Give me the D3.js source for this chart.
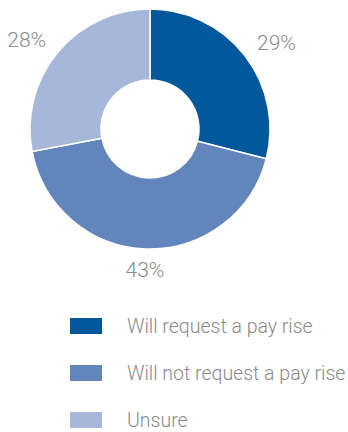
<!DOCTYPE html>
<html>
<head>
<meta charset="utf-8">
<script src="https://cdn.jsdelivr.net/npm/d3@7"></script>
<style>
  body { margin: 0; background: #fff; }
  text { font-family: Roboto, "Liberation Sans", sans-serif; font-weight: 300; fill: #8a8a8a; }
</style>
</head>
<body>
<div id="vis"></div>
<script>
// chart data
var categories = ['Will request a pay rise', 'Will not request a pay rise', 'Unsure'];
var values = [29, 43, 28];
var colors = ['#03579b', '#6286bb', '#a7b7d9'];

var width = 348, height = 432;
var cx = 150, cy = 129,
    outerR = 120, innerR = 49,
    labelRx = 160, labelRy = 141; // labels sit on a slightly flattened ring

var svg = d3.select('#vis').append('svg')
    .attr('width', width)
    .attr('height', height);

var data = categories.map(function(c, i){ return {key: c, n: values[i], color: colors[i]}; });

var pie = d3.pie().sort(null).value(function(d){ return d.n; });
var arc = d3.arc().innerRadius(innerR).outerRadius(outerR);

var g = svg.append('g').attr('transform', 'translate(' + cx + ',' + cy + ')');

var slices = pie(data);

g.selectAll('path.slice')
    .data(slices)
    .enter().append('path')
    .attr('class', 'slice')
    .attr('d', arc)
    .attr('fill', function(d){ return d.data.color; })
    .attr('stroke', '#fff')
    .attr('stroke-width', 1.5);

function labelPos(d){
    var a = (d.startAngle + d.endAngle) / 2;
    return [Math.sin(a) * labelRx, -Math.cos(a) * labelRy];
}

g.selectAll('text.pct')
    .data(slices)
    .enter().append('text')
    .attr('class', 'pct')
    .attr('transform', function(d){ return 'translate(' + labelPos(d) + ')'; })
    .attr('text-anchor', 'middle')
    .attr('dy', '0.36em')
    .style('font-size', '21px')
    .text(function(d){ return d.data.n + '%'; });

// legend
var legend = svg.append('g').attr('transform', 'translate(70,318)');
var rows = legend.selectAll('g.row')
    .data(data)
    .enter().append('g')
    .attr('class', 'row')
    .attr('transform', function(d, i){ return 'translate(0,' + (i * 47) + ')'; });

rows.append('rect')
    .attr('width', 32)
    .attr('height', 16)
    .attr('fill', function(d){ return d.color; });

rows.append('text')
    .attr('x', 57)
    .attr('y', 15)
    .style('font-size', '19.5px')
    .text(function(d){ return d.key; });
</script>
</body>
</html>
